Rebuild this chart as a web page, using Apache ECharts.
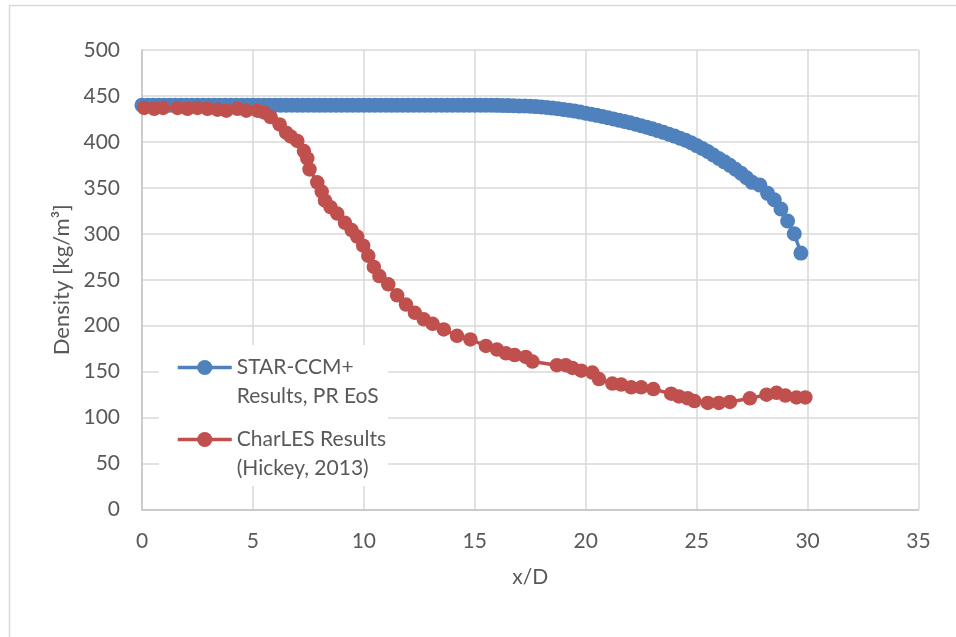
<!DOCTYPE html>
<html>
<head>
<meta charset="utf-8">
<title>Density along x/D</title>
<script src="https://cdn.jsdelivr.net/npm/echarts@6/dist/echarts.min.js"></script>
<style>
  html, body { margin: 0; padding: 0; background: #fff; }
  #chart { width: 956px; height: 637px; }
</style>
</head>
<body>
<div id="chart"></div>
<script>
// Axis ticks
const xTicks = { min: 0, max: 35, step: 5 };
const yTicks = { min: 0, max: 500, step: 50 };

// Series names (legend text wraps onto two lines)
const starName = 'STAR-CCM+ Results, PR EoS';
const charlesName = 'CharLES Results (Hickey, 2013)';
const legendLines = {
  [starName]: ['STAR-CCM+', 'Results, PR EoS'],
  [charlesName]: ['CharLES Results', '(Hickey, 2013)']
};

// STAR-CCM+ centreline density (kg/m3) against x/D
const starX = [
  0, 0.25, 0.5, 0.75, 1, 1.25, 1.5, 1.75, 2, 2.25, 2.5, 2.75, 3, 3.25, 3.5, 3.75,
  4, 4.25, 4.5, 4.75, 5, 5.25, 5.5, 5.75, 6, 6.25, 6.5, 6.75, 7, 7.25, 7.5, 7.75,
  8, 8.25, 8.5, 8.75, 9, 9.25, 9.5, 9.75, 10, 10.25, 10.5, 10.75, 11, 11.25, 11.5, 11.75,
  12, 12.25, 12.5, 12.75, 13, 13.25, 13.5, 13.75, 14, 14.25, 14.5, 14.75, 15,
  15.25, 15.5, 15.75, 16, 16.25, 16.5, 16.75, 17, 17.25, 17.5, 17.75, 18, 18.25, 18.5, 18.75,
  19, 19.25, 19.5, 19.75, 20, 20.25, 20.5, 20.75, 21, 21.25, 21.5, 21.75, 22, 22.25, 22.5, 22.75,
  23, 23.25, 23.5, 23.75, 24, 24.25, 24.5, 24.75, 25, 25.25, 25.5, 25.75, 26, 26.25, 26.5, 26.75,
  27, 27.25, 27.5, 27.85, 28.2, 28.5, 28.8, 29.1, 29.4, 29.7
];
const starDensity = [
  440, 440, 440, 440, 440, 440, 440, 440, 440, 440, 440, 440, 440, 440, 440, 440,
  440, 440, 440, 440, 440, 440, 440, 440, 440, 440, 440, 440, 440, 440, 440, 440,
  440, 440, 440, 440, 440, 440, 440, 440, 440, 440, 440, 440, 440, 440, 440, 440,
  440, 440, 440, 440, 440, 440, 440, 440, 440, 440, 440, 440, 440,
  440, 440, 439.9, 439.8, 439.7, 439.5, 439.4, 439.2, 439, 438.8, 438.4, 438, 437.4, 436.8, 436.1,
  435.3, 434.4, 433.5, 432.4, 431.3, 430.1, 428.9, 427.6, 426.3, 425, 423.6, 422.2, 420.8, 419.2, 417.6, 415.9,
  414.2, 412.3, 410.4, 408.4, 406.3, 404, 401.8, 399, 396, 392.8, 389.5, 385.8, 382, 378.3, 374.5, 370.3,
  366, 361, 356, 353, 344, 337, 327, 314, 300, 279
];

// CharLES centreline density (kg/m3) against x/D
const charlesX = [
  0.1, 0.55, 0.95, 1.6, 2.05, 2.5, 2.95, 3.4, 3.8, 4.3, 4.7, 5.2, 5.5, 5.8, 6.2, 6.5,
  6.7, 7.0, 7.3, 7.45, 7.55, 7.9, 8.1, 8.25, 8.5, 8.8, 9.15, 9.45, 9.7, 9.97, 10.2, 10.45,
  10.7, 11.1, 11.5, 11.9, 12.3, 12.7, 13.1, 13.6, 14.2, 14.8, 15.5, 16.0, 16.4, 16.8,
  17.3, 17.6, 18.7, 19.1, 19.4, 19.8, 20.3, 20.6, 21.2, 21.6, 22.05, 22.5, 23.05, 23.85,
  24.2, 24.6, 24.9, 25.5, 26.0, 26.5, 27.4, 28.15, 28.6, 29.0, 29.5, 29.9
];
const charlesDensity = [
  437, 436, 437, 437, 436, 437, 436, 435, 434, 436, 434, 434, 432, 427, 419, 410,
  406, 401, 390, 382, 370, 356, 346, 336, 329, 322, 312, 304, 297, 287, 276, 264,
  254, 245, 233, 223, 214, 207, 202, 196, 189, 185, 178, 174, 170, 168,
  166, 161, 157, 157, 154, 151, 149, 142, 137, 136, 133, 133, 131, 126,
  123, 121, 118, 116, 116, 117, 121, 125, 127, 124, 122, 122
];

const pairs = (xs, ys) => xs.map((x, i) => [x, ys[i]]);

const FONT = 'Lato, "Open Sans", "DejaVu Sans", sans-serif';
const TEXT = '#595959';
const BLUE = '#4F81BD';
const RED = '#C0504D';

const chart = echarts.init(document.getElementById('chart'), null, { renderer: 'canvas' });

chart.setOption({
  animation: false,
  backgroundColor: '#ffffff',
  textStyle: { fontFamily: FONT },
  graphic: [
    {
      type: 'rect',
      z: 0,
      shape: { x: 9.5, y: 5.5, width: 1000, height: 1000 },
      style: { fill: 'none', stroke: '#d9d9d9', lineWidth: 1.5 },
      silent: true
    },
    {
      // white panel behind the legend, covering the gridlines
      type: 'rect',
      z: 1,
      shape: { x: 159, y: 345, width: 229, height: 141 },
      style: { fill: '#ffffff' },
      silent: true
    }
  ],
  grid: { left: 142, right: 37.5, top: 50, bottom: 127.5, containLabel: false },
  legend: {
    orient: 'vertical',
    left: 176,
    top: 324,
    padding: 0,
    itemGap: -15,
    itemWidth: 54,
    itemHeight: 19,
    data: [starName, charlesName],
    formatter: name => '\n' + legendLines[name].join('\n'),
    textStyle: { fontFamily: FONT, fontSize: 21, lineHeight: 29, color: TEXT },
    lineStyle: { width: 3.5 },
    selectedMode: false
  },
  xAxis: {
    type: 'value',
    min: xTicks.min,
    max: xTicks.max,
    interval: xTicks.step,
    name: 'x/D',
    nameLocation: 'middle',
    nameGap: 57,
    nameTextStyle: { fontFamily: FONT, fontSize: 21, color: TEXT },
    axisLine: { show: true, onZero: false, lineStyle: { color: '#c4c4c4', width: 1.5 } },
    axisTick: { show: false },
    axisLabel: { margin: 21, fontFamily: FONT, fontSize: 21, color: TEXT },
    splitLine: { show: true, lineStyle: { color: '#d9d9d9', width: 1.5 } }
  },
  yAxis: {
    type: 'value',
    min: yTicks.min,
    max: yTicks.max,
    interval: yTicks.step,
    name: 'Density [kg/m³]',
    nameLocation: 'middle',
    nameRotate: 90,
    nameGap: 67,
    nameTextStyle: { fontFamily: FONT, fontSize: 22, color: TEXT },
    axisLine: { show: true, lineStyle: { color: '#c4c4c4', width: 1.5 } },
    axisTick: { show: false },
    axisLabel: { margin: 22, fontFamily: FONT, fontSize: 21, color: TEXT },
    splitLine: { show: true, lineStyle: { color: '#d9d9d9', width: 1.5 } }
  },
  series: [
    {
      name: starName,
      type: 'line',
      data: pairs(starX, starDensity),
      symbol: 'circle',
      symbolSize: 15,
      showAllSymbol: true,
      lineStyle: { color: BLUE, width: 3.5 },
      itemStyle: { color: BLUE },
      z: 2
    },
    {
      name: charlesName,
      type: 'line',
      data: pairs(charlesX, charlesDensity),
      symbol: 'circle',
      symbolSize: 14.5,
      showAllSymbol: true,
      lineStyle: { color: RED, width: 3.5 },
      itemStyle: { color: RED },
      z: 3
    }
  ]
});
</script>
</body>
</html>
